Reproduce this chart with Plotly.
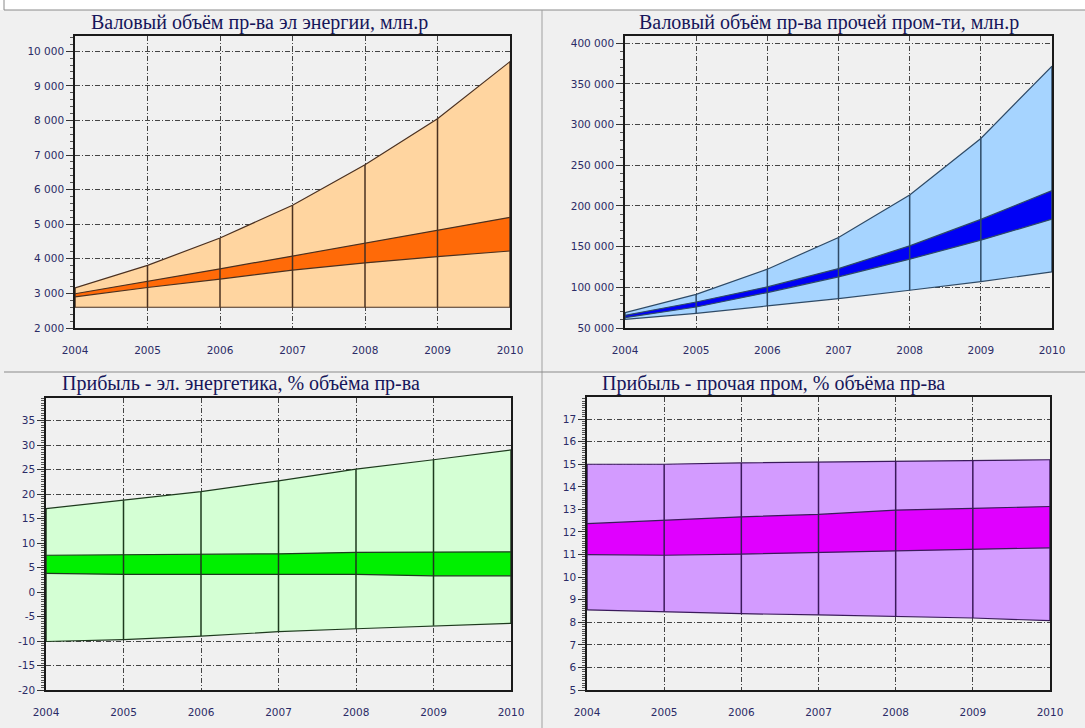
import plotly.graph_objects as go

W, H = 1085, 728

years = [2004, 2005, 2006, 2007, 2008, 2009, 2010]

# Panel 1: gross output, electric power (mln rub)
p1_outer_hi = [3160, 3810, 4600, 5550, 6720, 8050, 9700]
p1_outer_lo = [2600, 2600, 2600, 2600, 2600, 2600, 2600]
p1_inner_hi = [2990, 3340, 3710, 4080, 4460, 4830, 5200]
p1_inner_lo = [2900, 3170, 3415, 3675, 3880, 4065, 4225]

# Panel 2: gross output, other industry (mln rub)
p2_outer_hi = [68900, 91400, 122300, 161300, 213500, 283000, 372000]
p2_outer_lo = [60700, 68100, 77100, 86200, 96400, 107100, 119000]
p2_inner_hi = [65600, 82000, 100500, 123000, 151000, 183500, 219000]
p2_inner_lo = [62700, 75800, 93600, 112900, 134600, 158000, 183800]

# Panel 3: profit, electric power (% of output)
p3_outer_hi = [17.0, 18.7, 20.5, 22.7, 25.1, 27.0, 29.0]
p3_outer_lo = [-10.1, -9.7, -9.0, -8.1, -7.5, -6.9, -6.4]
p3_inner_hi = [7.5, 7.6, 7.6, 7.8, 8.1, 8.1, 8.2]
p3_inner_lo = [3.8, 3.6, 3.6, 3.6, 3.6, 3.3, 3.3]

# Panel 4: profit, other industry (% of output)
p4_outer_hi = [15.0, 15.0, 15.06, 15.1, 15.13, 15.16, 15.2]
p4_outer_lo = [8.55, 8.46, 8.38, 8.33, 8.25, 8.19, 8.07]
p4_inner_hi = [12.37, 12.53, 12.67, 12.78, 12.97, 13.05, 13.13]
p4_inner_lo = [11.0, 10.97, 11.02, 11.09, 11.16, 11.2, 11.3]

titles = [
    "Валовый объём пр-ва эл энергии, млн.р",
    "Валовый объём пр-ва прочей пром-ти, млн.р",
    "Прибыль - эл. энергетика, % объёма пр-ва",
    "Прибыль - прочая пром, % объёма пр-ва",
]

p1_ticks = [2000, 3000, 4000, 5000, 6000, 7000, 8000, 9000, 10000]
p1_ticktext = ["2 000", "3 000", "4 000", "5 000", "6 000", "7 000", "8 000", "9 000", "10 000"]
p2_ticks = [50000, 100000, 150000, 200000, 250000, 300000, 350000, 400000]
p2_ticktext = ["50 000", "100 000", "150 000", "200 000", "250 000", "300 000", "350 000", "400 000"]
p3_ticks = [-20, -15, -10, -5, 0, 5, 10, 15, 20, 25, 30, 35]
p3_ticktext = ["-20", "-15", "-10", "-5", "0", "5", "10", "15", "20", "25", "30", "35"]
p4_ticks = [5, 6, 7, 8, 9, 10, 11, 12, 13, 14, 15, 16, 17]
p4_ticktext = ["5", "6", "7", "8", "9", "10", "11", "12", "13", "14", "15", "16", "17"]
year_text = [str(y) for y in years]

panels = [
    dict(hi=p1_outer_hi, lo=p1_outer_lo, ihi=p1_inner_hi, ilo=p1_inner_lo,
         outer="#FFD5A0", inner="#FF6A08", line="#4a3020",
         ticks=p1_ticks, ticktext=p1_ticktext, yrange=[2000, 10440], minor=200,
         px=(75, 510), py=(36, 328), tx=259),
    dict(hi=p2_outer_hi, lo=p2_outer_lo, ihi=p2_inner_hi, ilo=p2_inner_lo,
         outer="#A6D4FF", inner="#0000F5", line="#2e4a66",
         ticks=p2_ticks, ticktext=p2_ticktext, yrange=[50000, 409000], minor=10000,
         px=(625, 1052), py=(36, 328), tx=829),
    dict(hi=p3_outer_hi, lo=p3_outer_lo, ihi=p3_inner_hi, ilo=p3_inner_lo,
         outer="#D4FFD4", inner="#00F000", line="#1e3a1e",
         ticks=p3_ticks, ticktext=p3_ticktext, yrange=[-20, 39.6], minor=0.5,
         px=(46, 511), py=(398, 690), tx=241),
    dict(hi=p4_outer_hi, lo=p4_outer_lo, ihi=p4_inner_hi, ilo=p4_inner_lo,
         outer="#D39BFF", inner="#E000FF", line="#3a1a5a",
         ticks=p4_ticks, ticktext=p4_ticktext, yrange=[5, 17.98], minor=0.1,
         px=(587, 1050), py=(397, 690), tx=773),
]

fig = go.Figure()
annotations = []
tick_font = dict(family="DejaVu Sans", size=10.5, color="#2b2b66")
grid_dash = "5px,2px,1px,2px"

for i, p in enumerate(panels, start=1):
    xa = "x" if i == 1 else f"x{i}"
    ya = "y" if i == 1 else f"y{i}"
    common = dict(xaxis=xa, yaxis=ya, mode="lines", hoverinfo="skip", showlegend=False)
    fig.add_trace(go.Scatter(x=years, y=p["lo"], line=dict(color=p["line"], width=1.2), **common))
    fig.add_trace(go.Scatter(x=years, y=p["hi"], fill="tonexty", fillcolor=p["outer"],
                             line=dict(color=p["line"], width=1.2), **common))
    fig.add_trace(go.Scatter(x=years, y=p["ilo"], line=dict(color=p["line"], width=1.2), **common))
    fig.add_trace(go.Scatter(x=years, y=p["ihi"], fill="tonexty", fillcolor=p["inner"],
                             line=dict(color=p["line"], width=1.2), **common))
    vx, vy = [], []
    for yr, lo, hi in zip(years, p["lo"], p["hi"]):
        vx += [yr, yr, None]
        vy += [lo, hi, None]
    fig.add_trace(go.Scatter(x=vx, y=vy, line=dict(color=p["line"], width=1.5), **common))

    x0, x1 = p["px"]
    y0, y1 = p["py"]
    xkey = "xaxis" if i == 1 else f"xaxis{i}"
    ykey = "yaxis" if i == 1 else f"yaxis{i}"
    fig.update_layout(**{
        xkey: dict(domain=[x0 / W, x1 / W], anchor=ya, range=[2004, 2010], automargin=False,
                   tickvals=years, ticktext=year_text, tickfont=tick_font,
                   ticks="outside", ticklen=4, tickcolor="rgba(0,0,0,0)",
                   ticklabelstandoff=8,
                   showgrid=True, gridcolor="#444444", gridwidth=1, griddash=grid_dash,
                   showline=True, linecolor="#1a1a1a", linewidth=1.5, mirror=True,
                   zeroline=False, fixedrange=True),
        ykey: dict(domain=[1 - y1 / H, 1 - y0 / H], anchor=xa, range=p["yrange"], automargin=False,
                   tickvals=p["ticks"], ticktext=p["ticktext"], tickfont=tick_font,
                   ticks="outside", ticklen=7, tickcolor="#333333", tickwidth=1,
                   minor=dict(dtick=p["minor"], tick0=p["ticks"][0], ticks="outside",
                              ticklen=3, tickcolor="#555555", showgrid=False),
                   showgrid=True, gridcolor="#444444", gridwidth=1, griddash=grid_dash,
                   showline=True, linecolor="#1a1a1a", linewidth=1.5, mirror=True,
                   zeroline=False, fixedrange=True),
    })
    ty = 22 if i <= 2 else 383
    annotations.append(dict(text=titles[i - 1], xref="paper", yref="paper",
                            x=p["tx"] / W, y=1 - ty / H, xanchor="center", yanchor="middle",
                            showarrow=False,
                            font=dict(family="Liberation Serif", size=20, color="#16165a")))

shapes = [
    dict(type="rect", xref="paper", yref="paper", x0=0, x1=1, y0=1 - 10 / H, y1=1,
         fillcolor="white", line=dict(width=0), layer="below"),
    dict(type="line", xref="paper", yref="paper", x0=4 / W, x1=1, y0=1 - 10 / H, y1=1 - 10 / H,
         line=dict(color="#8a8a8a", width=1)),
    dict(type="line", xref="paper", yref="paper", x0=4 / W, x1=4 / W, y0=1, y1=1 - 10 / H,
         line=dict(color="#8a8a8a", width=1)),
    dict(type="line", xref="paper", yref="paper", x0=542 / W, x1=542 / W, y0=0, y1=1 - 10 / H,
         line=dict(color="#a0a0a0", width=1)),
    dict(type="line", xref="paper", yref="paper", x0=4 / W, x1=1, y0=1 - 372 / H, y1=1 - 372 / H,
         line=dict(color="#8a8a8a", width=1)),
]

fig.update_layout(
    width=W, height=H, margin=dict(l=0, r=0, t=0, b=0, autoexpand=False),
    paper_bgcolor="#F0F0F0", plot_bgcolor="#F0F0F0",
    annotations=annotations, shapes=shapes, showlegend=False,
)

fig.write_html(
    "out.html",
    config={"displayModeBar": False},
    post_script="document.body.style.margin='0';document.body.style.padding='0';document.body.style.overflow='hidden';",
)
